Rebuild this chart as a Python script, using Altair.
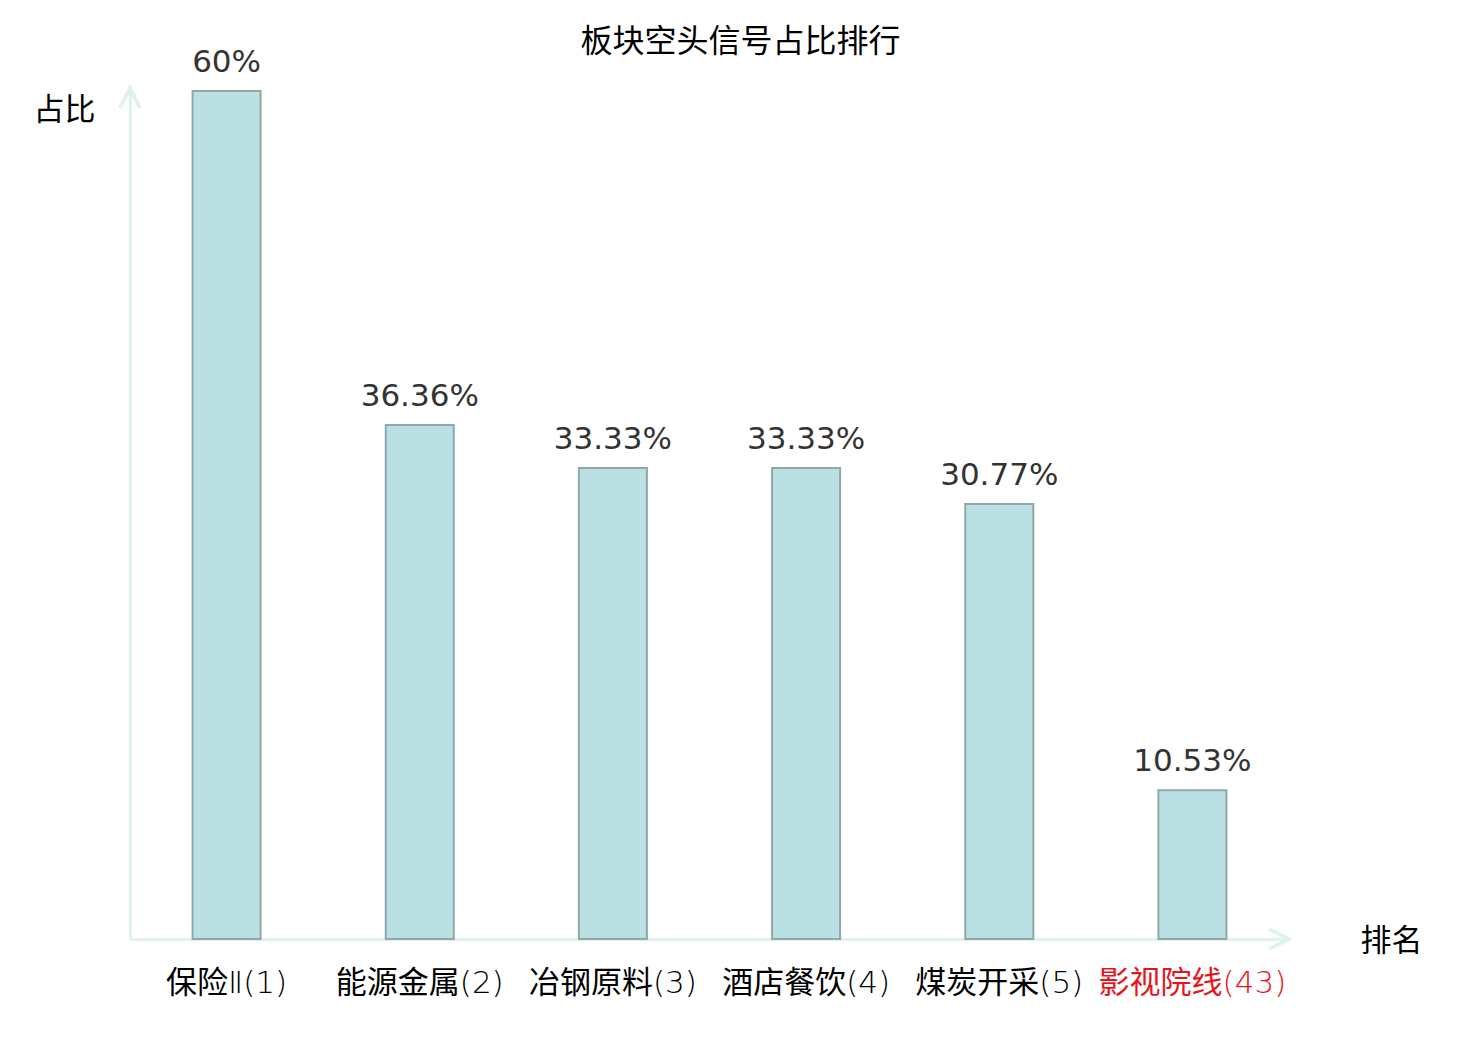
import altair as alt
import pandas as pd

categories = ["保险Ⅱ(1)", "能源金属(2)", "冶钢原料(3)", "酒店餐饮(4)", "煤炭开采(5)", "影视院线(43)"]
values = [60, 36.36, 33.33, 33.33, 30.77, 10.53]
highlight = "影视院线(43)"

df = pd.DataFrame({
    "cat": categories,
    "val": values,
    "label": [f"{v:g}%" for v in values],
})

CJK = "Noto Sans CJK SC"
NUM = "DejaVu Sans, Noto Sans CJK SC"
AXC = "#dff2ef"

W, H = 1159, 851

x = alt.X("cat:N", sort=categories, scale=alt.Scale(paddingInner=0, paddingOuter=0),
          axis=alt.Axis(title="排名", titleAngle=0, titleX=1261, titleY=2, titleAlign="center",
                        titleBaseline="middle", titleFont=CJK, titleFontSize=31, titleFontWeight="normal",
                        titleColor="#000", labelFont="DejaVu Sans Light, Noto Sans CJK SC", labelFontSize=31,
                        labelFontWeight="normal", labelAngle=0,
                        labelBaseline="middle", labelPadding=44, ticks=False, domainColor=AXC,
                        domainWidth=3, labelOverlap=False, labelLimit=0,
                        labelColor=alt.condition(f"datum.value == '{highlight}'", alt.value("#e8141c"), alt.value("#000"))))
y = alt.Y("val:Q", scale=alt.Scale(domain=[0, 60.21], nice=False, zero=True),
          axis=alt.Axis(title="占比", titleAngle=0, titleX=-66, titleY=22, titleAlign="center",
                        titleBaseline="middle", titleFont=CJK, titleFontSize=31, titleFontWeight="normal",
                        titleColor="#000", labels=False, ticks=False, grid=False, domainColor=AXC,
                        domainWidth=3))

base = alt.Chart(df)
bars = base.mark_bar(size=68, fill="#bbe0e3", stroke="#8fa8aa", strokeWidth=2).encode(x=x, y=y)
text = base.mark_text(font=NUM, fontSize=31, color="#333", baseline="middle", dy=-28).encode(
    x=alt.X("cat:N", sort=categories), y="val:Q", text="label:N")

arrow_shape_up = "M-0.5,1 L0,0 L0.5,1"
arrow_shape_right = "M-1,-0.5 L0,0 L-1,0.5"
up = base.mark_point(shape=arrow_shape_up, filled=False, size=1600, stroke=AXC, strokeWidth=3,
                     opacity=1).encode(x=alt.value(0), y=alt.value(0))
right = base.mark_point(shape=arrow_shape_right, filled=False, size=1600, stroke=AXC, strokeWidth=3,
                        opacity=1).encode(x=alt.value(W), y=alt.value(H))

chart = alt.layer(bars, text, up, right).properties(
    width=W, height=H,
    title=alt.TitleParams("板块空头信号占比排行", font=CJK, fontSize=32, fontWeight="normal",
                          color="#000", anchor="middle", frame="group", offset=0, dx=31, dy=12),
    padding={"left": 122, "top": 80, "right": 170, "bottom": 90},
    autosize=alt.AutoSizeParams(type="none"),
).configure_view(stroke=None)

chart.save("out.html", embed_options={"renderer": "svg", "actions": False})
